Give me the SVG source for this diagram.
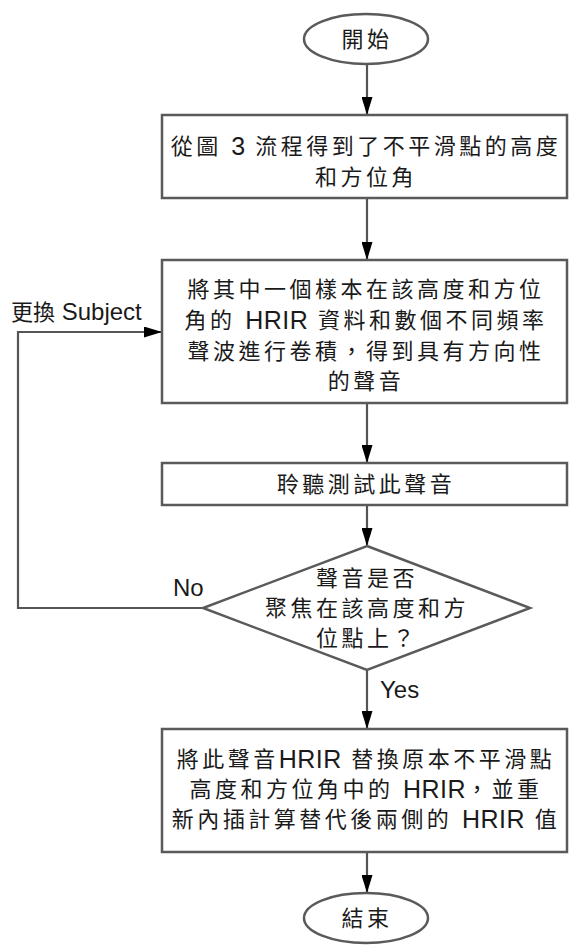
<svg xmlns="http://www.w3.org/2000/svg" width="570" height="947" viewBox="0 0 570 947">
<defs>
<marker id="arr" viewBox="0 0 18 11" refX="18" refY="5.5" markerWidth="18" markerHeight="11" orient="auto" markerUnits="userSpaceOnUse">
<path d="M0,0 L18,5.5 L0,11 z" fill="#000"/>
</marker>
<style>
.shape{fill:#fff;stroke:#5a5a5a;stroke-width:2.5}
.line{fill:none;stroke:#555;stroke-width:2.2}
.t{font-family:"Liberation Sans","Noto Sans CJK TC",sans-serif;font-size:22px;letter-spacing:3.5px;fill:#1a1a1a;text-anchor:middle;dominant-baseline:central}
.la{font-size:25px;letter-spacing:0.5px}
.l{font-family:"Liberation Sans","Noto Sans CJK TC",sans-serif;font-size:24px;fill:#1a1a1a}
.lc{font-size:22px}
</style>
</defs>
<rect width="570" height="947" fill="#fff"/>
<g id="connectors">
<line class="line" x1="367" y1="64" x2="367" y2="115" marker-end="url(#arr)"/>
<line class="line" x1="367" y1="198" x2="367" y2="260" marker-end="url(#arr)"/>
<line class="line" x1="367" y1="403" x2="367" y2="463" marker-end="url(#arr)"/>
<line class="line" x1="367" y1="505" x2="367" y2="546" marker-end="url(#arr)"/>
<line class="line" x1="367" y1="670" x2="367" y2="729" marker-end="url(#arr)"/>
<line class="line" x1="367" y1="852" x2="367" y2="893" marker-end="url(#arr)"/>
<polyline class="line" points="203,608 18,608 18,332 162,332" marker-end="url(#arr)"/>
<text class="l" x="11" y="320"><tspan class="lc">更換</tspan> Subject</text>
<text class="l" x="173" y="596">No</text>
<text class="l" x="380" y="698">Yes</text>
</g>
<g id="start">
<ellipse class="shape" cx="366" cy="39" rx="62" ry="25"/>
<text class="t" x="367" y="39">開始</text>
</g>
<g id="step1">
<rect class="shape" x="162" y="115" width="405" height="83"/>
<text class="t" x="366" y="146">從圖 <tspan class="la">3</tspan> 流程得到了不平滑點的高度</text>
<text class="t" x="366" y="177">和方位角</text>
</g>
<g id="step2">
<rect class="shape" x="162" y="260" width="405" height="143"/>
<text class="t" x="366" y="289">將其中一個樣本在該高度和方位</text>
<text class="t" x="366" y="320">角的 <tspan class="la">HRIR</tspan> 資料和數個不同頻率</text>
<text class="t" x="366" y="351">聲波進行卷積，得到具有方向性</text>
<text class="t" x="366" y="381">的聲音</text>
</g>
<g id="step3">
<rect class="shape" x="162" y="463" width="405" height="42"/>
<text class="t" x="366" y="484">聆聽測試此聲音</text>
</g>
<g id="decision">
<polygon class="shape" points="367,546 530,608 367,670 203,608"/>
<text class="t" x="367" y="578">聲音是否</text>
<text class="t" x="367" y="608">聚焦在該高度和方</text>
<text class="t" x="367" y="638">位點上？</text>
</g>
<g id="step4">
<rect class="shape" x="162" y="729" width="405" height="123"/>
<text class="t" x="366" y="759">將此聲音<tspan class="la">HRIR</tspan> 替換原本不平滑點</text>
<text class="t" x="366" y="789">高度和方位角中的 <tspan class="la">HRIR</tspan>，並重</text>
<text class="t" x="366" y="819">新內插計算替代後兩側的 <tspan class="la">HRIR</tspan> 值</text>
</g>
<g id="end">
<ellipse class="shape" cx="366" cy="918" rx="62" ry="25"/>
<text class="t" x="367" y="918">結束</text>
</g>
</svg>
